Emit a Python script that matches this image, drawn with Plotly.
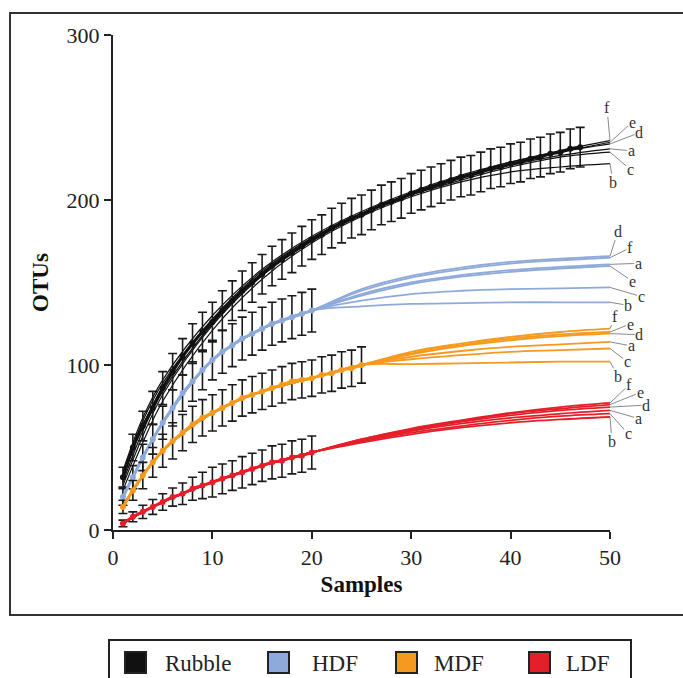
import plotly.graph_objects as go

# ---- observed rarefaction means (± error) per forest type ----
rubble_x = list(range(1, 48))
rubble_mean = [32, 50, 63, 74, 86, 96, 105, 113, 120, 126, 133, 139, 145, 150, 155, 160,
               164, 168, 172, 176, 179, 183, 186, 189, 191, 194, 197, 199, 201, 204, 206,
               208, 210, 212, 214, 215, 217, 219, 220, 222, 223, 225, 226, 228, 229, 231, 232]
rubble_err = [6, 8, 9, 10, 10, 11, 11, 12, 12, 12, 12, 12, 12, 12, 12, 12, 12, 12, 12, 12,
              12, 12, 12, 12, 12, 12, 12, 12, 12, 12, 12, 12, 12, 12, 12, 12, 12, 12, 12, 12,
              12, 12, 12, 12, 12, 12, 12]

hdf_x = list(range(1, 21))
hdf_mean = [20, 32, 44, 55, 65, 74, 83, 90, 97, 103, 108, 112, 116, 119, 122, 125, 127, 129, 131, 133]
hdf_err = [5, 7, 8, 9, 10, 11, 11, 12, 12, 12, 13, 13, 13, 13, 13, 13, 13, 13, 13, 13]

mdf_x = list(range(1, 26))
mdf_mean = [14, 24, 33, 41, 48, 54, 59, 64, 68, 71, 74, 77, 80, 82, 84, 86, 88, 90, 91, 92,
            94, 95, 97, 98, 100]
mdf_err = [4, 6, 8, 9, 10, 11, 11, 11, 11, 11, 11, 11, 11, 11, 11, 11, 11, 11, 11, 11,
           11, 11, 11, 11, 11]

ldf_x = list(range(1, 21))
ldf_mean = [4, 8, 11, 14, 17, 20, 22, 25, 27, 29, 31, 33, 35, 37, 39, 41, 42, 44, 45, 47]
ldf_err = [2, 3, 4, 4.5, 5, 5.5, 6.5, 7, 8, 9, 9, 9, 9.5, 9.5, 9.5, 10, 10, 10, 10, 10]

# ---- extrapolated curves (estimators a-f) ----
curve_x = [1, 3, 5, 10, 15, 20, 25, 30, 35, 40, 45, 50]
rubble_curves = {
    "f": [36, 68, 91, 130, 158, 178, 193, 205, 215, 223, 230, 236],
    "e": [34, 66, 89, 128, 157, 177, 192, 204, 214, 223, 229, 235],
    "d": [31, 63, 87, 127, 156, 177, 192, 204, 214, 222, 229, 234],
    "a": [29, 60, 84, 125, 155, 176, 191, 203, 213, 221, 227, 231],
    "c": [27, 57, 82, 124, 154, 175, 191, 203, 212, 220, 226, 229],
    "b": [24, 53, 78, 121, 152, 174, 190, 202, 211, 217, 220, 222],
}
hdf_curves = {
    "d": [20, 44, 65, 103, 122, 133, 146, 154, 159, 162.5, 164.5, 166],
    "f": [20, 44, 65, 103, 122, 133, 145, 153, 158, 161.5, 163.5, 165],
    "a": [20, 44, 65, 103, 122, 133, 143, 150, 154.5, 157.5, 159.5, 161],
    "e": [20, 44, 65, 103, 122, 133, 142, 149, 153.5, 156.5, 158.5, 160],
    "c": [20, 44, 65, 103, 122, 133, 139, 143, 145, 146, 146.5, 147],
    "b": [20, 44, 65, 103, 122, 133, 135.5, 137, 137.5, 138, 138, 138],
}
mdf_curves = {
    "f": [14, 33, 48, 71, 84, 92, 100, 108, 113, 117, 120, 122],
    "e": [14, 33, 48, 71, 84, 92, 100, 107, 112, 116, 118.5, 120],
    "d": [14, 33, 48, 71, 84, 92, 100, 106.5, 111.5, 115, 117.5, 119],
    "a": [14, 33, 48, 71, 84, 92, 100, 105, 108.5, 111, 112.5, 114],
    "c": [14, 33, 48, 71, 84, 92, 100, 103.5, 106, 108, 109, 110],
    "b": [14, 33, 48, 71, 84, 92, 100, 100.5, 101, 101.5, 102, 102],
}
ldf_curves = {
    "f": [4, 11, 17, 29, 39, 47, 55, 61.5, 66.5, 71, 74.5, 77],
    "e": [4, 11, 17, 29, 39, 47, 55, 61, 66, 70.5, 73.5, 76],
    "d": [4, 11, 17, 29, 39, 47, 54.5, 60.5, 65.5, 69.5, 72.5, 74.5],
    "a": [4, 11, 17, 29, 39, 47, 54, 60, 64.5, 68, 70.5, 72.5],
    "c": [4, 11, 17, 29, 39, 47, 53.5, 59, 63, 66.5, 69, 70.5],
    "b": [4, 11, 17, 29, 39, 47, 53, 58, 62, 65, 67, 68.5],
}

group_names = ["Rubble", "HDF", "MDF", "LDF"]
colors = {"Rubble": "#111111", "HDF": "#8eaadb", "MDF": "#f59a1f", "LDF": "#e3202a"}

# label offsets (pixels) for the a-f tags at the curve ends
label_offsets = {
    "Rubble": {"f": (-3, -33), "e": (22, -20), "d": (29, -11), "a": (21, 2), "c": (20, 17), "b": (3, 19)},
    "HDF": {"d": (8, -25), "f": (20, -10), "a": (28, -1), "e": (22, 15), "c": (31, 9), "b": (18, 3)},
    "MDF": {"f": (5, -12), "e": (20, -8), "d": (29, 1), "a": (21, 4), "c": (17, 13), "b": (8, 15)},
    "LDF": {"f": (19, -18), "e": (30, -12), "d": (36, -2), "a": (28, 8), "c": (18, 20), "b": (2, 25)},
}

groups = {
    "Rubble": (rubble_x, rubble_mean, rubble_err, rubble_curves),
    "HDF": (hdf_x, hdf_mean, hdf_err, hdf_curves),
    "MDF": (mdf_x, mdf_mean, mdf_err, mdf_curves),
    "LDF": (ldf_x, ldf_mean, ldf_err, ldf_curves),
}

SERIF = "Liberation Serif"
W, H = 683, 678
ML, MR, MT, MB = 113, 73, 35, 148
PW, PH = W - ML - MR, H - MT - MB


def px(xp):
    return (xp - ML) / PW


def py(yp):
    return (H - MB - yp) / PH


fig = go.Figure()

# thin extrapolation curves first
for g in group_names:
    _, _, _, curves = groups[g]
    lw = 1.2 if g == "Rubble" else 1.8
    for key, vals in curves.items():
        fig.add_trace(go.Scatter(
            x=curve_x, y=vals, mode="lines", line=dict(color=colors[g], width=lw, shape="spline"),
            showlegend=False, hoverinfo="skip"))

# observed means with error bars
for g in group_names:
    xs, ys, es, _ = groups[g]
    fig.add_trace(go.Scatter(
        x=xs, y=ys, mode="lines+markers", name=g,
        line=dict(color=colors[g], width=3, shape="spline"),
        marker=dict(color=colors[g], size=6),
        error_y=dict(type="data", array=es, visible=True, color="#1a1a1a", thickness=1.6, width=4.5),
        showlegend=False))

annotations = []
for g in group_names:
    _, _, _, curves = groups[g]
    for key, vals in curves.items():
        ax, ay = label_offsets[g][key]
        annotations.append(dict(
            x=curve_x[-1], y=vals[-1], xref="x", yref="y", text=key, showarrow=True,
            arrowhead=0, arrowwidth=1, arrowcolor="#8a8a8a", ax=ax, ay=ay, standoff=0,
            borderpad=0, font=dict(family=SERIF, size=16, color="#333333")))

# legend (drawn box with swatches)
legend_items = [("Rubble", 125, 163), ("HDF", 268, 310), ("MDF", 396, 432), ("LDF", 529, 564)]
shapes = [
    # outer frame
    dict(type="rect", xref="paper", yref="paper", x0=px(10), x1=px(700), y0=py(615), y1=py(13),
         line=dict(color="#333333", width=2), layer="below"),
    # legend box
    dict(type="rect", xref="paper", yref="paper", x0=px(109), x1=px(631), y0=py(700), y1=py(640),
         line=dict(color="#222222", width=2)),
]
for name, sx, tx in legend_items:
    shapes.append(dict(type="rect", xref="paper", yref="paper", x0=px(sx), x1=px(sx + 21),
                       y0=py(673), y1=py(652), fillcolor=colors[name],
                       line=dict(color="#222222", width=2)))
    annotations.append(dict(x=px(tx), y=py(663), xref="paper", yref="paper", text=name,
                            showarrow=False, xanchor="left", yanchor="middle",
                            font=dict(family=SERIF, size=23, color="#222222")))

fig.update_layout(
    width=W, height=H, margin=dict(l=ML, r=MR, t=MT, b=MB),
    paper_bgcolor="white", plot_bgcolor="white",
    shapes=shapes, annotations=annotations,
    xaxis=dict(range=[0, 50], tickvals=[0, 10, 20, 30, 40, 50], showgrid=False, zeroline=False,
               showline=True, linecolor="#222222", linewidth=2, ticks="outside", ticklen=7,
               tickwidth=2, tickcolor="#222222",
               tickfont=dict(family=SERIF, size=22, color="#222222"),
               title=dict(text="<b>Samples</b>", standoff=6,
                          font=dict(family=SERIF, size=23, color="#111111"))),
    yaxis=dict(range=[0, 300], tickvals=[0, 100, 200, 300], showgrid=False, zeroline=False,
               showline=True, linecolor="#222222", linewidth=2, ticks="outside", ticklen=7,
               tickwidth=2, tickcolor="#222222",
               tickfont=dict(family=SERIF, size=22, color="#222222"),
               title=dict(text="<b>OTUs</b>", standoff=12,
                          font=dict(family=SERIF, size=23, color="#111111"))),
)

fig.write_html("out.html")
